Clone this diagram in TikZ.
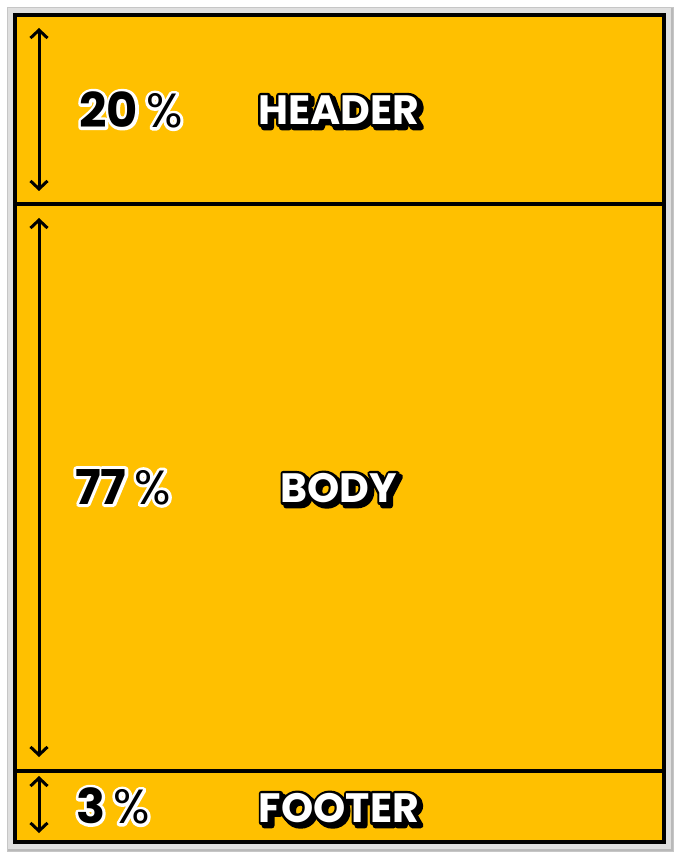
\documentclass[tikz,border=0pt]{standalone}
\usepackage{fontspec}
\setmainfont{Poppins}
\usetikzlibrary{arrows.meta}
\definecolor{secyellow}{HTML}{FFC000}
\newcommand\strk[3]{\special{pdf:literal direct #1 RG #2 w 1 j 2 Tr}#3\special{pdf:literal direct 0 Tr}}
\tikzset{
  section/.style={draw=black, line width=3.5pt, fill=secyellow, inner sep=0pt},
  sizearrow/.style={line width=3pt, {Straight Barb[length=8pt,width=17pt,line width=3pt]}-{Straight Barb[length=8pt,width=17pt,line width=3pt]}},
  lbl/.style={font=\bfseries\fontsize{41}{41}\selectfont, inner sep=0pt},
  pct/.style={font=\bfseries\fontsize{48}{48}\selectfont, inner sep=0pt},
}
\newcommand\glowtext[4]{% pos, name, style, text
  \node[#3, text=white] at (#1) {\strk{1 1 1}{6}{#4}};
  \node[#3, text=black] (#2) at (#1) {#4};
}
\newcommand\shadowtext[4]{% pos, name, style, text
  \node[#3, text=black, xshift=3pt, yshift=-3pt] at (#1) {\strk{0 0 0}{6}{#4}};
  \node[#3, text=black] at (#1) {\strk{0 0 0}{5.5}{#4}};
  \node[#3, text=white] (#2) at (#1) {#4};
}
\begin{document}
\begin{tikzpicture}[x=1pt,y=-1pt]
\useasboundingbox (0,0) rectangle (680,858);
\fill[white] (0,0) rectangle (680,858);
% outer grey frame
\fill[gray!55] (8,8) rectangle (674,852);
\fill[gray!25] (7,7) rectangle (671,849);
\draw[gray!45, line width=0.8pt] (7,7) rectangle (673,851);
% sections
\node[section, minimum width=649pt, minimum height=189pt] (header) at (339.5,109.5) {};
\node[section, minimum width=649pt, minimum height=567pt] (body) at (339.5,487.5) {};
\node[section, minimum width=649pt, minimum height=71pt] (footer) at (339.5,806.5) {};
% arrows
\coordinate (ha) at (39,28); \coordinate (hb) at (39,191);
\coordinate (ba) at (39,218); \coordinate (bb) at (39,757);
\coordinate (fa) at (39,776); \coordinate (fb) at (39,833);
\draw[sizearrow] (ha) -- (hb);
\draw[sizearrow] (ba) -- (bb);
\draw[sizearrow] (fa) -- (fb);
% texts
\glowtext{131,110}{hpct}{pct}{20\,{\mdseries\%}}
\glowtext{123,487}{bpct}{pct}{77\,{\mdseries\%}}
\glowtext{113,806}{fpct}{pct}{3\,{\mdseries\%}}
\shadowtext{339,110}{hlbl}{lbl}{HEADER}
\shadowtext{339,488}{blbl}{lbl}{BODY}
\shadowtext{339,808}{flbl}{lbl}{FOOTER}
\end{tikzpicture}
\end{document}
